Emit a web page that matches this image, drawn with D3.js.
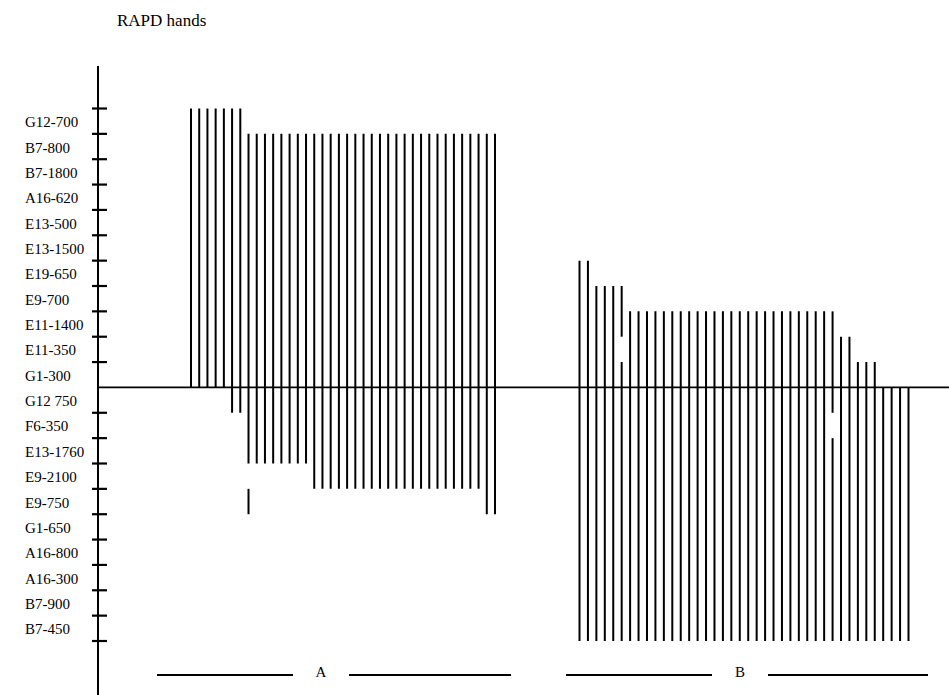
<!DOCTYPE html>
<html>
<head>
<meta charset="utf-8">
<script src="https://cdn.jsdelivr.net/npm/d3@7/dist/d3.min.js"></script>
<style>
  body { margin: 0; background: #fff; }
  text { font-family: "Liberation Serif", "Times New Roman", "DejaVu Serif", serif; fill: #000; }
</style>
</head>
<body>
<div id="chart"></div>
<script>
const width = 949, height = 695;

// band names, top to bottom
const upperBands = ["G12-700", "B7-800", "B7-1800", "A16-620", "E13-500", "E13-1500",
                    "E19-650", "E9-700", "E11-1400", "E11-350", "G1-300"];
const lowerBands = ["G12 750", "F6-350", "E13-1760", "E9-2100", "E9-750", "G1-650",
                    "A16-800", "A16-300", "B7-900", "B7-450"];

// how many bands each lane reaches above / below the centre line
const upperA = [11, 11, 11, 11, 11, 11, 11,
                10, 10, 10, 10, 10, 10, 10, 10, 10, 10, 10, 10, 10, 10, 10, 10,
                10, 10, 10, 10, 10, 10, 10, 10, 10, 10, 10, 10, 10, 10, 10];
const lowerA = [0, 0, 0, 0, 0, 1, 1,
                5, 3, 3, 3, 3, 3, 3, 3, 4, 4, 4, 4, 4, 4, 4, 4,
                4, 4, 4, 4, 4, 4, 4, 4, 4, 4, 4, 4, 4, 5, 5];
const upperB = [5, 5, 4, 4, 4, 4,
                3, 3, 3, 3, 3, 3, 3, 3, 3, 3, 3, 3, 3, 3, 3, 3, 3, 3, 3, 3, 3, 3, 3, 3, 3,
                2, 2, 1, 1, 1, 0, 0, 0, 0];
const lowerB = [10, 10, 10, 10, 10, 10, 10, 10, 10, 10, 10, 10, 10, 10, 10, 10, 10, 10, 10, 10,
                10, 10, 10, 10, 10, 10, 10, 10, 10, 10, 10, 10, 10, 10, 10, 10, 10, 10, 10, 10];

// bands missing inside a lane's range
const missing = [
  { group: "A", lane: 7, band: "E9-2100" },
  { group: "B", lane: 5, band: "E11-350" },
  { group: "B", lane: 30, band: "F6-350" }
];

const groupNames = ["A", "B"];

const svg = d3.select("#chart").append("svg")
    .attr("width", width)
    .attr("height", height);

const allBands = upperBands.concat(lowerBands);
const y = d3.scaleBand().domain(allBands).range([108.5, 641]);
const bw = y.bandwidth();
const base = y(lowerBands[0]);
const axisX = 98;

const xA = d3.scalePoint().domain(upperA.map((d, i) => i)).range([191, 495]);
const xB = d3.scalePoint().domain(upperB.map((d, i) => i)).range([579.5, 908.5]);

const segs = [];
function addLanes(g, ups, downs, x) {
  ups.forEach((u, i) => {
    const dn = downs[i];
    const present = allBands.map((b, k) =>
      (k < upperBands.length ? k >= upperBands.length - u : k < upperBands.length + dn) &&
      !missing.some(m => m.group === g && m.lane === i && m.band === b));
    let start = null;
    present.concat([false]).forEach((p, k) => {
      if (p && start === null) start = k;
      if (!p && start !== null) {
        segs.push({ x: x(i), y1: y(allBands[start]), y2: y(allBands[k - 1]) + bw });
        start = null;
      }
    });
  });
}
addLanes("A", upperA, lowerA, xA);
addLanes("B", upperB, lowerB, xB);

// title
svg.append("text")
    .attr("x", 117)
    .attr("y", 26)
    .style("font-size", "17px")
    .text("RAPD hands");

// y axis
svg.append("line")
    .attr("x1", axisX).attr("x2", axisX)
    .attr("y1", 66).attr("y2", height)
    .attr("stroke", "#000").attr("stroke-width", 2);

const tickYs = upperBands.map(b => y(b)).concat(lowerBands.map(b => y(b) + bw));
svg.selectAll(".tick")
    .data(tickYs)
    .enter().append("line")
    .attr("class", "tick")
    .attr("x1", axisX - 6).attr("x2", axisX + 9)
    .attr("y1", d => d).attr("y2", d => d)
    .attr("stroke", "#000").attr("stroke-width", 2.2);

svg.selectAll(".band-label")
    .data(allBands)
    .enter().append("text")
    .attr("class", "band-label")
    .attr("x", 25)
    .attr("y", d => y(d) + bw / 2 + 1)
    .attr("dominant-baseline", "central")
    .style("font-size", "15px")
    .text(d => d);

// centre line
svg.append("line")
    .attr("x1", axisX).attr("x2", width)
    .attr("y1", base).attr("y2", base)
    .attr("stroke", "#000").attr("stroke-width", 1.8);

// lanes
svg.selectAll(".lane")
    .data(segs)
    .enter().append("line")
    .attr("class", "lane")
    .attr("x1", d => d.x).attr("x2", d => d.x)
    .attr("y1", d => d.y1).attr("y2", d => d.y2)
    .attr("stroke", "#000").attr("stroke-width", 2);

// group brackets under the lanes
const bracket = { A: [157, 321, 511], B: [566, 740, 928] };
const bracketY = 675;
groupNames.forEach(g => {
  const [l, c, r] = bracket[g];
  svg.append("line")
      .attr("x1", l).attr("x2", c - 28)
      .attr("y1", bracketY).attr("y2", bracketY)
      .attr("stroke", "#000").attr("stroke-width", 2);
  svg.append("line")
      .attr("x1", c + 28).attr("x2", r)
      .attr("y1", bracketY).attr("y2", bracketY)
      .attr("stroke", "#000").attr("stroke-width", 2);
  svg.append("text")
      .attr("x", c)
      .attr("y", bracketY + 2)
      .attr("text-anchor", "middle")
      .style("font-size", "15px")
      .text(g);
});
</script>
</body>
</html>
